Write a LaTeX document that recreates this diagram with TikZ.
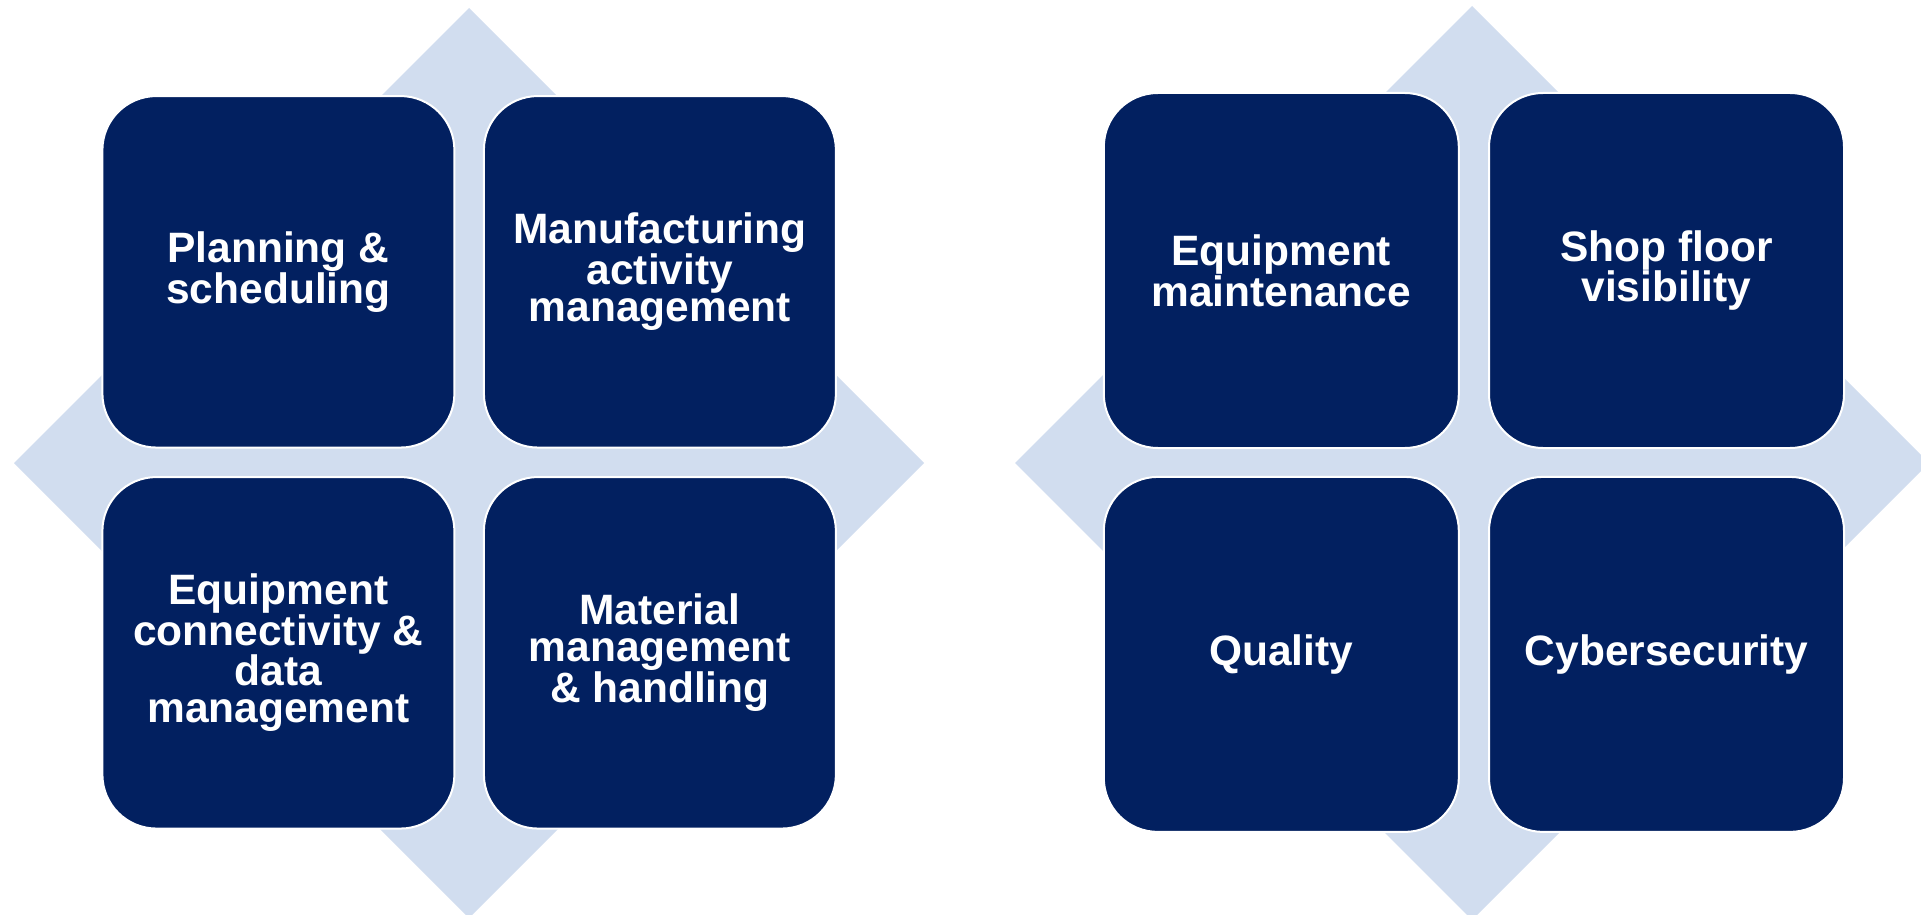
\documentclass[tikz,border=0pt]{standalone}
\usepackage{fontspec}
\setmainfont{Liberation Sans}
\definecolor{navy}{HTML}{022060}
\definecolor{lightdiamond}{HTML}{D1DDEF}
\begin{document}
\begin{tikzpicture}[x=1pt,y=-1pt,
  tile/.style={rectangle, rounded corners=54pt, fill=navy, draw=white, line width=2pt,
    text=white, align=center, font=\fontsize{42.5}{37}\selectfont\bfseries, inner sep=0pt},
  lefttile/.style={tile, minimum width=352pt, minimum height=351.5pt},
  righttile/.style={tile, minimum width=355pt, minimum height=355pt},
  diamondfill/.style={fill=lightdiamond, draw=none}]
\useasboundingbox (0,0) rectangle (1921,915);
\clip (0,0) rectangle (1921,915);
% left diamond
\fill[diamondfill] (469,8) -- (924,463) -- (469,918) -- (14,463) -- cycle;
% right diamond
\fill[diamondfill] (1472,6) -- (1929,463) -- (1472,920) -- (1015,463) -- cycle;
% left tiles
\node[lefttile] (plan) at (278.4,271.8) {Planning \&\\scheduling};
\node[lefttile] (manu) at (659.9,271.8) {Manufacturing\\activity\\management};
\node[lefttile] (conn) at (278.4,652.8) {Equipment\\connectivity \&\\data\\management};
\node[lefttile] (matl) at (659.9,652.8) {Material\\management\\\& handling};
% right tiles
\node[righttile] (maint) at (1281.3,270.5) {Equipment\\maintenance};
\node[righttile] (shop) at (1666.5,270.5) {Shop floor\\visibility};
\node[righttile] (qual) at (1281.3,654.4) {Quality};
\node[righttile] (cyber) at (1666.5,654.4) {Cybersecurity};
\end{tikzpicture}
\end{document}
